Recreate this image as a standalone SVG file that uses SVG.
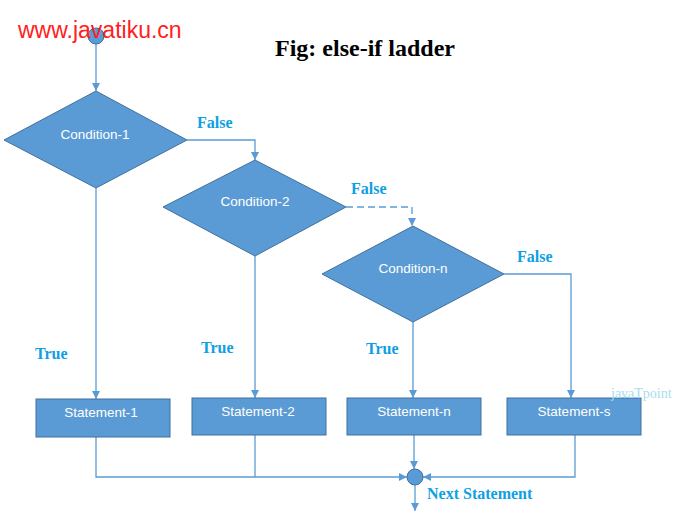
<svg xmlns="http://www.w3.org/2000/svg" width="685" height="518" viewBox="0 0 685 518">
<defs>
<marker id="arr" markerWidth="10" markerHeight="10" refX="8" refY="4" orient="auto" markerUnits="userSpaceOnUse">
<path d="M0,0 L8,4 L0,8 Z" fill="#5b9bd5"/>
</marker>
<style>
.shape{fill:#5b9bd5;stroke:#41719c;stroke-width:1}
.ntext{font-family:"Liberation Sans",Arial,sans-serif;font-size:13.5px;fill:#ffffff;text-anchor:middle}
.con{fill:none;stroke:#5b9bd5;stroke-width:1.3}
.lbl{font-family:"Liberation Serif","Times New Roman",serif;font-size:16px;font-weight:bold;fill:#0ea0e2}
</style>
</defs>
<rect width="685" height="518" fill="#ffffff"/>
<text x="365" y="56" font-family="Liberation Serif,'Times New Roman',serif" font-size="24" font-weight="bold" text-anchor="middle" fill="#000000">Fig: else-if ladder</text>
<g id="connectors">
<line class="con" x1="96" y1="44" x2="96" y2="91" marker-end="url(#arr)"/>
<polyline class="con" points="187,140 255,140 255,160" marker-end="url(#arr)"/>
<polyline class="con" points="346,207 412,207 412,226" stroke-dasharray="7,4" marker-end="url(#arr)"/>
<polyline class="con" points="504,274 571,274 571,398" marker-end="url(#arr)"/>
<line class="con" x1="96" y1="188" x2="96" y2="399" marker-end="url(#arr)"/>
<line class="con" x1="255" y1="256" x2="255" y2="398" marker-end="url(#arr)"/>
<line class="con" x1="413" y1="322" x2="413" y2="398" marker-end="url(#arr)"/>
<polyline class="con" points="96,437 96,477 407,477" marker-end="url(#arr)"/>
<line class="con" x1="255" y1="435" x2="255" y2="477"/>
<line class="con" x1="414" y1="435" x2="414" y2="469" marker-end="url(#arr)"/>
<polyline class="con" points="575,435 575,477 423,477" marker-end="url(#arr)"/>
<line class="con" x1="415" y1="485" x2="415" y2="511" marker-end="url(#arr)"/>
</g>
<g id="start"><circle class="shape" cx="96" cy="36" r="8"/></g>
<g id="cond1"><polygon class="shape" points="96,91 187,140 96,188 4,140"/><text class="ntext" x="95" y="139">Condition-1</text></g>
<g id="cond2"><polygon class="shape" points="255,160 346,207 255,256 163,207"/><text class="ntext" x="255" y="206">Condition-2</text></g>
<g id="condn"><polygon class="shape" points="413,226 504,274 413,322 322,274"/><text class="ntext" x="413" y="273">Condition-n</text></g>
<g id="stmt1"><rect class="shape" x="36" y="399" width="134" height="38"/><text class="ntext" x="101" y="417">Statement-1</text></g>
<g id="stmt2"><rect class="shape" x="192" y="398" width="134" height="37"/><text class="ntext" x="258" y="416">Statement-2</text></g>
<g id="stmtn"><rect class="shape" x="347" y="398" width="134" height="37"/><text class="ntext" x="414" y="416">Statement-n</text></g>
<g id="stmts"><rect class="shape" x="507" y="398" width="134" height="37"/><text class="ntext" x="574" y="416">Statement-s</text></g>
<g id="end"><circle class="shape" cx="415" cy="477" r="8"/></g>
<g id="labels">
<text class="lbl" x="197" y="128">False</text>
<text class="lbl" x="351" y="194">False</text>
<text class="lbl" x="517" y="262">False</text>
<text class="lbl" x="35" y="359">True</text>
<text class="lbl" x="201" y="353">True</text>
<text class="lbl" x="366" y="354">True</text>
<text class="lbl" x="427" y="499">Next Statement</text>
</g>
<text x="611" y="398" font-family="Liberation Serif,'Times New Roman',serif" font-size="14" fill="#a6def0">javaTpoint</text>
<text x="18" y="38" font-family="Liberation Sans,Arial,sans-serif" font-size="23" fill="#ff2020">www.javatiku.cn</text>
</svg>
